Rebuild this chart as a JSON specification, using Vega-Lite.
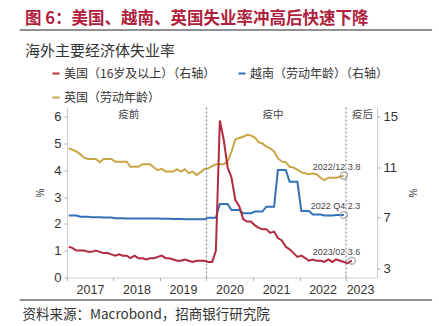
{
  "$schema": "https://vega.github.io/schema/vega-lite/v6.json",
  "width": 310,
  "height": 170,
  "autosize": {"type": "none"},
  "padding": {"left": 67, "top": 107.5, "right": 62, "bottom": 48.5},
  "background": "white",
  "config": {"view": {"stroke": null}, "font": "Noto Sans CJK SC"},
  "title": {
    "text": "图 6：美国、越南、英国失业率冲高后快速下降",
    "subtitle": "\u2002\u2009海外主要经济体失业率",
    "anchor": "start",
    "frame": "group",
    "dx": -42,
    "offset": -30,
    "font": "Noto Sans CJK SC",
    "fontSize": 16.5,
    "fontWeight": "bold",
    "color": "#b0203c",
    "subtitleFont": "Noto Sans CJK SC",
    "subtitleFontSize": 15,
    "subtitleColor": "#333333",
    "subtitlePadding": 17
  },
  "datasets": {
    "rates": [
      {"s":"UK","d":"2017-01-15","v":4.82},{"s":"UK","d":"2017-02-15","v":4.76},{"s":"UK","d":"2017-03-15","v":4.7},{"s":"UK","d":"2017-04-15","v":4.6},{"s":"UK","d":"2017-05-15","v":4.47},{"s":"UK","d":"2017-06-15","v":4.42},{"s":"UK","d":"2017-07-15","v":4.42},{"s":"UK","d":"2017-08-15","v":4.42},{"s":"UK","d":"2017-09-15","v":4.3},{"s":"UK","d":"2017-10-15","v":4.42},{"s":"UK","d":"2017-11-15","v":4.42},{"s":"UK","d":"2017-12-15","v":4.42},
      {"s":"UK","d":"2018-01-15","v":4.32},{"s":"UK","d":"2018-02-15","v":4.32},{"s":"UK","d":"2018-03-15","v":4.32},{"s":"UK","d":"2018-04-15","v":4.32},{"s":"UK","d":"2018-05-15","v":4.13},{"s":"UK","d":"2018-06-15","v":4.13},{"s":"UK","d":"2018-07-15","v":4.13},{"s":"UK","d":"2018-08-15","v":4.22},{"s":"UK","d":"2018-09-15","v":4.22},{"s":"UK","d":"2018-10-15","v":4.22},{"s":"UK","d":"2018-11-15","v":4.1},{"s":"UK","d":"2018-12-15","v":4.0},
      {"s":"UK","d":"2019-01-15","v":4.05},{"s":"UK","d":"2019-02-15","v":3.95},{"s":"UK","d":"2019-03-15","v":3.95},{"s":"UK","d":"2019-04-15","v":3.95},{"s":"UK","d":"2019-05-15","v":4.04},{"s":"UK","d":"2019-06-15","v":3.95},{"s":"UK","d":"2019-07-15","v":4.04},{"s":"UK","d":"2019-08-15","v":3.89},{"s":"UK","d":"2019-09-15","v":3.95},{"s":"UK","d":"2019-10-15","v":3.82},{"s":"UK","d":"2019-11-15","v":3.92},{"s":"UK","d":"2019-12-15","v":4.04},
      {"s":"UK","d":"2020-01-15","v":4.07},{"s":"UK","d":"2020-02-15","v":4.15},{"s":"UK","d":"2020-03-15","v":4.22},{"s":"UK","d":"2020-04-15","v":4.22},{"s":"UK","d":"2020-05-15","v":4.22},{"s":"UK","d":"2020-06-15","v":4.32},{"s":"UK","d":"2020-07-15","v":4.69},{"s":"UK","d":"2020-08-15","v":5.15},{"s":"UK","d":"2020-09-15","v":5.2},{"s":"UK","d":"2020-10-15","v":5.25},{"s":"UK","d":"2020-11-15","v":5.32},{"s":"UK","d":"2020-12-15","v":5.3},
      {"s":"UK","d":"2021-01-15","v":5.22},{"s":"UK","d":"2021-02-15","v":5.04},{"s":"UK","d":"2021-03-15","v":5.0},{"s":"UK","d":"2021-04-15","v":4.88},{"s":"UK","d":"2021-05-15","v":4.82},{"s":"UK","d":"2021-06-15","v":4.7},{"s":"UK","d":"2021-07-15","v":4.45},{"s":"UK","d":"2021-08-15","v":4.32},{"s":"UK","d":"2021-09-15","v":4.3},{"s":"UK","d":"2021-10-15","v":4.13},{"s":"UK","d":"2021-11-15","v":4.1},{"s":"UK","d":"2021-12-15","v":4.02},
      {"s":"UK","d":"2022-01-15","v":3.92},{"s":"UK","d":"2022-02-15","v":3.89},{"s":"UK","d":"2022-03-15","v":3.85},{"s":"UK","d":"2022-04-15","v":3.88},{"s":"UK","d":"2022-05-15","v":3.85},{"s":"UK","d":"2022-06-15","v":3.72},{"s":"UK","d":"2022-07-15","v":3.63},{"s":"UK","d":"2022-08-15","v":3.72},{"s":"UK","d":"2022-09-15","v":3.72},{"s":"UK","d":"2022-10-15","v":3.72},{"s":"UK","d":"2022-11-15","v":3.76},{"s":"UK","d":"2022-12-15","v":3.8},
      {"s":"VN","d":"2017-01-15","v":2.31},{"s":"VN","d":"2017-02-15","v":2.31},{"s":"VN","d":"2017-03-15","v":2.31},{"s":"VN","d":"2017-04-15","v":2.27},{"s":"VN","d":"2017-05-15","v":2.27},{"s":"VN","d":"2017-06-15","v":2.27},{"s":"VN","d":"2017-07-15","v":2.25},{"s":"VN","d":"2017-08-15","v":2.25},{"s":"VN","d":"2017-09-15","v":2.25},{"s":"VN","d":"2017-10-15","v":2.24},{"s":"VN","d":"2017-11-15","v":2.24},{"s":"VN","d":"2017-12-15","v":2.24},
      {"s":"VN","d":"2018-01-15","v":2.21},{"s":"VN","d":"2018-02-15","v":2.21},{"s":"VN","d":"2018-03-15","v":2.21},{"s":"VN","d":"2018-04-15","v":2.2},{"s":"VN","d":"2018-05-15","v":2.2},{"s":"VN","d":"2018-06-15","v":2.2},{"s":"VN","d":"2018-07-15","v":2.2},{"s":"VN","d":"2018-08-15","v":2.2},{"s":"VN","d":"2018-09-15","v":2.2},{"s":"VN","d":"2018-10-15","v":2.2},{"s":"VN","d":"2018-11-15","v":2.2},{"s":"VN","d":"2018-12-15","v":2.2},
      {"s":"VN","d":"2019-01-15","v":2.19},{"s":"VN","d":"2019-02-15","v":2.19},{"s":"VN","d":"2019-03-15","v":2.19},{"s":"VN","d":"2019-04-15","v":2.18},{"s":"VN","d":"2019-05-15","v":2.18},{"s":"VN","d":"2019-06-15","v":2.18},{"s":"VN","d":"2019-07-15","v":2.17},{"s":"VN","d":"2019-08-15","v":2.17},{"s":"VN","d":"2019-09-15","v":2.17},{"s":"VN","d":"2019-10-15","v":2.17},{"s":"VN","d":"2019-11-15","v":2.17},{"s":"VN","d":"2019-12-15","v":2.17},
      {"s":"VN","d":"2020-01-15","v":2.23},{"s":"VN","d":"2020-02-15","v":2.23},{"s":"VN","d":"2020-03-15","v":2.23},{"s":"VN","d":"2020-04-15","v":2.74},{"s":"VN","d":"2020-05-15","v":2.74},{"s":"VN","d":"2020-06-15","v":2.74},{"s":"VN","d":"2020-07-15","v":2.52},{"s":"VN","d":"2020-08-15","v":2.52},{"s":"VN","d":"2020-09-15","v":2.52},{"s":"VN","d":"2020-10-15","v":2.4},{"s":"VN","d":"2020-11-15","v":2.4},{"s":"VN","d":"2020-12-15","v":2.4},
      {"s":"VN","d":"2021-01-15","v":2.46},{"s":"VN","d":"2021-02-15","v":2.46},{"s":"VN","d":"2021-03-15","v":2.46},{"s":"VN","d":"2021-04-15","v":2.64},{"s":"VN","d":"2021-05-15","v":2.64},{"s":"VN","d":"2021-06-15","v":2.64},{"s":"VN","d":"2021-07-15","v":4.01},{"s":"VN","d":"2021-08-15","v":4.01},{"s":"VN","d":"2021-09-15","v":4.01},{"s":"VN","d":"2021-10-15","v":3.57},{"s":"VN","d":"2021-11-15","v":3.57},{"s":"VN","d":"2021-12-15","v":3.57},
      {"s":"VN","d":"2022-01-15","v":2.48},{"s":"VN","d":"2022-02-15","v":2.48},{"s":"VN","d":"2022-03-15","v":2.48},{"s":"VN","d":"2022-04-15","v":2.35},{"s":"VN","d":"2022-05-15","v":2.35},{"s":"VN","d":"2022-06-15","v":2.35},{"s":"VN","d":"2022-07-15","v":2.31},{"s":"VN","d":"2022-08-15","v":2.31},{"s":"VN","d":"2022-09-15","v":2.31},{"s":"VN","d":"2022-10-15","v":2.33},{"s":"VN","d":"2022-11-15","v":2.33},{"s":"VN","d":"2022-12-15","v":2.33},
      {"s":"US","d":"2017-01-15","v":4.7},{"s":"US","d":"2017-02-15","v":4.6},{"s":"US","d":"2017-03-15","v":4.4},{"s":"US","d":"2017-04-15","v":4.4},{"s":"US","d":"2017-05-15","v":4.4},{"s":"US","d":"2017-06-15","v":4.3},{"s":"US","d":"2017-07-15","v":4.3},{"s":"US","d":"2017-08-15","v":4.4},{"s":"US","d":"2017-09-15","v":4.3},{"s":"US","d":"2017-10-15","v":4.2},{"s":"US","d":"2017-11-15","v":4.2},{"s":"US","d":"2017-12-15","v":4.1},
      {"s":"US","d":"2018-01-15","v":4.0},{"s":"US","d":"2018-02-15","v":4.1},{"s":"US","d":"2018-03-15","v":4.0},{"s":"US","d":"2018-04-15","v":4.0},{"s":"US","d":"2018-05-15","v":3.8},{"s":"US","d":"2018-06-15","v":4.0},{"s":"US","d":"2018-07-15","v":3.8},{"s":"US","d":"2018-08-15","v":3.8},{"s":"US","d":"2018-09-15","v":3.7},{"s":"US","d":"2018-10-15","v":3.8},{"s":"US","d":"2018-11-15","v":3.8},{"s":"US","d":"2018-12-15","v":3.9},
      {"s":"US","d":"2019-01-15","v":4.0},{"s":"US","d":"2019-02-15","v":3.8},{"s":"US","d":"2019-03-15","v":3.8},{"s":"US","d":"2019-04-15","v":3.7},{"s":"US","d":"2019-05-15","v":3.6},{"s":"US","d":"2019-06-15","v":3.6},{"s":"US","d":"2019-07-15","v":3.7},{"s":"US","d":"2019-08-15","v":3.6},{"s":"US","d":"2019-09-15","v":3.5},{"s":"US","d":"2019-10-15","v":3.6},{"s":"US","d":"2019-11-15","v":3.6},{"s":"US","d":"2019-12-15","v":3.6},
      {"s":"US","d":"2020-01-15","v":3.5},{"s":"US","d":"2020-02-15","v":3.5},{"s":"US","d":"2020-03-15","v":4.4},{"s":"US","d":"2020-04-15","v":14.7},{"s":"US","d":"2020-05-15","v":13.2},{"s":"US","d":"2020-06-15","v":11.0},{"s":"US","d":"2020-07-15","v":10.2},{"s":"US","d":"2020-08-15","v":8.4},{"s":"US","d":"2020-09-15","v":7.9},{"s":"US","d":"2020-10-15","v":6.9},{"s":"US","d":"2020-11-15","v":6.7},{"s":"US","d":"2020-12-15","v":6.7},
      {"s":"US","d":"2021-01-15","v":6.4},{"s":"US","d":"2021-02-15","v":6.2},{"s":"US","d":"2021-03-15","v":6.1},{"s":"US","d":"2021-04-15","v":6.1},{"s":"US","d":"2021-05-15","v":5.8},{"s":"US","d":"2021-06-15","v":5.9},{"s":"US","d":"2021-07-15","v":5.4},{"s":"US","d":"2021-08-15","v":5.2},{"s":"US","d":"2021-09-15","v":4.7},{"s":"US","d":"2021-10-15","v":4.5},{"s":"US","d":"2021-11-15","v":4.2},{"s":"US","d":"2021-12-15","v":3.9},
      {"s":"US","d":"2022-01-15","v":4.0},{"s":"US","d":"2022-02-15","v":3.8},{"s":"US","d":"2022-03-15","v":3.6},{"s":"US","d":"2022-04-15","v":3.7},{"s":"US","d":"2022-05-15","v":3.6},{"s":"US","d":"2022-06-15","v":3.6},{"s":"US","d":"2022-07-15","v":3.5},{"s":"US","d":"2022-08-15","v":3.7},{"s":"US","d":"2022-09-15","v":3.5},{"s":"US","d":"2022-10-15","v":3.7},{"s":"US","d":"2022-11-15","v":3.6},{"s":"US","d":"2022-12-15","v":3.5},
      {"s":"US","d":"2023-01-15","v":3.4},{"s":"US","d":"2023-02-15","v":3.6}
    ],
    "phases": [
      {"phase": "疫前", "d": "2018-05-01"},
      {"phase": "疫中", "d": "2021-06-07"},
      {"phase": "疫后", "d": "2023-05-10"}
    ],
    "breaks": [{"d": "2020-01-01"}, {"d": "2023-01-01"}],
    "frames": [{"a": "2015-12-27", "b": "2024-11-07", "v": 9.23}, {"a": "2015-12-27", "b": "2024-11-07", "v": -0.84}],
    "ends": [
      {"s": "UK", "d": "2022-12-15", "v": 3.8, "label": "2022/12 3.8"},
      {"s": "VN", "d": "2022-12-15", "v": 2.33, "label": "2022 Q4 2.3"},
      {"s": "US", "d": "2023-02-15", "v": 3.6, "label": "2023/02 3.6"}
    ]
  },
  "encoding": {
    "x": {
      "field": "d",
      "type": "temporal",
      "scale": {"type": "utc", "domain": [{"year": 2017, "month": 1, "date": 1, "utc": true}, {"year": 2023, "month": 9, "date": 1, "utc": true}]},
      "axis": {
        "values": [
          {"year": 2017, "month": 1, "date": 1, "utc": true},
          {"year": 2018, "month": 1, "date": 1, "utc": true},
          {"year": 2019, "month": 1, "date": 1, "utc": true},
          {"year": 2020, "month": 1, "date": 1, "utc": true},
          {"year": 2021, "month": 1, "date": 1, "utc": true},
          {"year": 2022, "month": 1, "date": 1, "utc": true},
          {"year": 2023, "month": 1, "date": 1, "utc": true}
        ],
        "labelExpr": "utcFormat(datum.value, '%Y')",
        "labelOffset": {"condition": {"test": "utcyear(datum.value) == 2023", "value": 14}, "value": 23},
        "labelFlush": false,
        "labelOverlap": false,
        "labelFont": "Liberation Sans",
        "labelFontSize": 12.5,
        "labelColor": "#333333",
        "labelPadding": 3,
        "tickSize": 3,
        "tickColor": "#aaaaaa",
        "domainColor": "#cccccc",
        "grid": false,
        "title": "资料来源：Macrobond，招商银行研究院",
        "titleX": -45,
        "titleY": 37,
        "titleAlign": "left",
        "titleAnchor": "start",
        "titleBaseline": "middle",
        "titleFont": "Noto Sans CJK SC",
        "titleFontSize": 13.5,
        "titleFontWeight": "normal",
        "titleColor": "#333333"
      }
    }
  },
  "layer": [
    {
      "encoding": {
        "y": {
          "field": "v",
          "type": "quantitative",
          "scale": {"domain": [0, 6.34], "nice": false, "zero": false},
          "axis": {
            "orient": "left",
            "values": [0, 1, 2, 3, 4, 5, 6],
            "title": "%",
            "titleFont": "Liberation Sans",
            "titleFontSize": 10,
            "titleFontWeight": "normal",
            "titleColor": "#333333",
            "titlePadding": 8,
            "labelFont": "Liberation Sans",
            "labelFontSize": 13,
            "labelColor": "#333333",
            "labelPadding": 3,
            "tickSize": 3,
            "tickColor": "#aaaaaa",
            "domainColor": "#cccccc",
            "grid": false
          }
        }
      },
      "layer": [
        {
          "data": {"name": "frames"},
          "mark": {"type": "rule", "color": "#222222", "strokeWidth": 1.2},
          "encoding": {
            "x": {"field": "a", "type": "temporal", "title": null},
            "x2": {"field": "b"}
          }
        },
        {
          "data": {"name": "rates"},
          "transform": [{"filter": "datum.s != 'US'"}],
          "mark": {"type": "line", "strokeWidth": 2},
          "encoding": {
            "color": {
              "field": "s",
              "type": "nominal",
              "scale": {"domain": ["US", "VN", "UK"], "range": ["#b22a3e", "#3470b8", "#c9a544"]},
              "legend": {
                "orient": "none",
                "legendX": -17,
                "legendY": -40,
                "direction": "horizontal",
                "columns": 2,
                "title": null,
                "padding": 0,
                "symbolType": "stroke",
                "symbolSize": 50,
                "symbolStrokeWidth": 2,
                "labelOffset": 2,
                "labelFont": "Noto Sans CJK SC",
                "labelFontSize": 12,
                "labelColor": "#333333",
                "columnPadding": 18,
                "rowPadding": 12,
                "labelLimit": 300,
                "labelExpr": "datum.label == 'US' ? '美国（16岁及以上）（右轴）' : datum.label == 'VN' ? '越南（劳动年龄）（右轴）' : '英国（劳动年龄）'"
              }
            }
          }
        },
        {
          "data": {"name": "ends"},
          "transform": [{"filter": "datum.s != 'US'"}],
          "mark": {"type": "point", "shape": "circle", "size": 50, "filled": false, "stroke": "#999999", "strokeWidth": 1.5}
        },
        {
          "data": {"name": "ends"},
          "transform": [{"filter": "datum.s != 'US'"}],
          "mark": {"type": "text", "font": "Liberation Sans", "fontSize": 9, "color": "#444444", "align": "right", "baseline": "middle", "dx": 16.5, "dy": -9},
          "encoding": {"text": {"field": "label"}}
        }
      ]
    },
    {
      "layer": [
        {
          "data": {"name": "breaks"},
          "mark": {"type": "rule", "color": "#888888", "strokeWidth": 1.2, "strokeDash": [2, 2]},
          "encoding": {}
        },
        {
          "data": {"name": "phases"},
          "mark": {"type": "text", "font": "Noto Sans CJK SC", "fontSize": 10.5, "color": "#444444", "baseline": "middle", "align": "center"},
          "encoding": {
            "y": {"datum": 15.1, "type": "quantitative", "scale": {"domain": [2.27, 15.73], "nice": false, "zero": false}, "axis": {"orient": "right", "title": "%"}},
            "text": {"field": "phase"}
          }
        },
        {
          "data": {"name": "rates"},
          "transform": [{"filter": "datum.s == 'US'"}],
          "mark": {"type": "line", "strokeWidth": 2},
          "encoding": {
            "y": {
              "field": "v",
              "type": "quantitative",
              "scale": {"domain": [2.27, 15.73], "nice": false, "zero": false},
              "axis": {
                "orient": "right",
                "values": [3, 4, 5, 6, 7, 8, 9, 10, 11, 12, 13, 14, 15],
                "labelExpr": "datum.value % 2 == 1 ? datum.label : ''",
                "title": "%",
                "titleFont": "Liberation Sans",
                "titleFontSize": 10,
                "titleFontWeight": "normal",
                "titleColor": "#333333",
                "titlePadding": 9,
                "labelFont": "Liberation Sans",
                "labelFontSize": 13,
                "labelColor": "#333333",
                "labelPadding": 3,
                "tickSize": 3,
                "tickColor": "#aaaaaa",
                "domainColor": "#cccccc",
                "grid": false
              }
            },
            "color": {"field": "s", "type": "nominal"}
          }
        },
        {
          "data": {"name": "ends"},
          "transform": [{"filter": "datum.s == 'US'"}],
          "mark": {"type": "point", "shape": "circle", "size": 50, "filled": false, "stroke": "#999999", "strokeWidth": 1.5},
          "encoding": {
            "y": {"field": "v", "type": "quantitative", "scale": {"domain": [2.27, 15.73], "nice": false, "zero": false}, "axis": {"orient": "right", "title": "%"}}
          }
        },
        {
          "data": {"name": "ends"},
          "transform": [{"filter": "datum.s == 'US'"}],
          "mark": {"type": "text", "font": "Liberation Sans", "fontSize": 9, "color": "#444444", "align": "right", "baseline": "middle", "dx": 8.5, "dy": -9},
          "encoding": {
            "y": {"field": "v", "type": "quantitative", "scale": {"domain": [2.27, 15.73], "nice": false, "zero": false}, "axis": {"orient": "right", "title": "%"}},
            "text": {"field": "label"}
          }
        }
      ]
    }
  ],
  "resolve": {"scale": {"y": "independent"}}
}
